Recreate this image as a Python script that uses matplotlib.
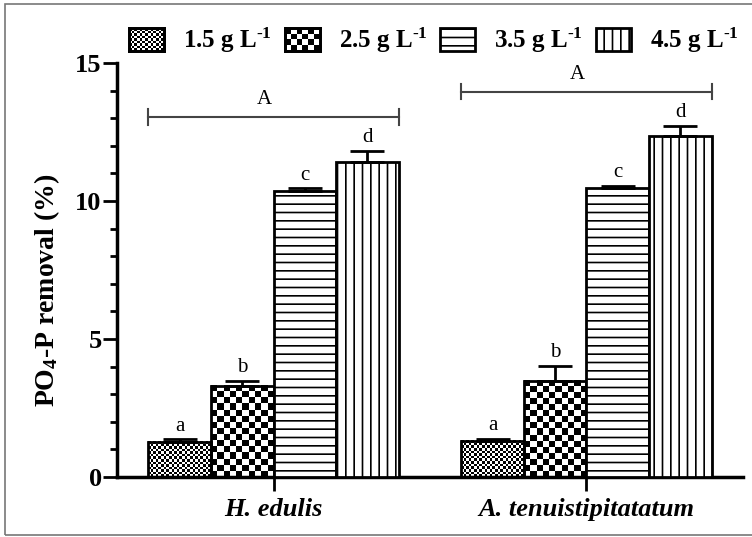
import numpy as np
import matplotlib
matplotlib.use('Agg')
import matplotlib.pyplot as plt
from matplotlib.patches import Rectangle
from matplotlib.ticker import MultipleLocator

plt.rcParams['font.family'] = 'Liberation Serif'
plt.rcParams['font.weight'] = 'bold'
plt.rcParams['mathtext.fontset'] = 'custom'
plt.rcParams['mathtext.rm'] = 'Liberation Serif:bold'
plt.rcParams['mathtext.it'] = 'Liberation Serif:italic:bold'
plt.rcParams['mathtext.bf'] = 'Liberation Serif:bold'
plt.rcParams['hatch.linewidth'] = 1.2

# data
species = ['H. edulis', 'A. tenuistipitatatum']
doses = ['1.5', '2.5', '3.5', '4.5']
removal_he = [1.28, 3.31, 10.38, 11.42]
err_he = [0.08, 0.18, 0.08, 0.39]
removal_at = [1.31, 3.49, 10.48, 12.34]
err_at = [0.06, 0.53, 0.07, 0.39]
sig_letters = ['a', 'b', 'c', 'd']
group_letters = ['A', 'A']
group_bracket_y = [13.05, 13.96]

# fill style per dose: checkerboards are drawn as clipped images
patterns = ['fine', 'coarse', '--', '||']
cell_px = {'fine': 2.6, 'coarse': 6.2}


def checker(nx, ny):
    return (np.add.outer(np.arange(ny), np.arange(nx)) % 2).astype(float)


fig = plt.figure(figsize=(7.52, 5.37), dpi=100)
ax = fig.add_axes([0.1556, 0.1117, 0.8324, 0.7709])
ax.set_xlim(-0.5, 1.5)
ax.set_ylim(0, 15)

x = np.arange(len(species))
width = 0.2
values = np.array([removal_he, removal_at])
errors = np.array([err_he, err_at])

for i, dose in enumerate(doses):
    pos = x + (i - 1.5) * width
    pat = patterns[i]
    textured = pat in cell_px
    bars = ax.bar(pos, values[:, i], width,
                  facecolor='none' if textured else 'white',
                  edgecolor='black', linewidth=2,
                  hatch=None if textured else pat,
                  label=dose + r' g L$^{\text{-1}}$', zorder=3)
    ax.errorbar(pos, values[:, i], yerr=[np.zeros(len(species)), errors[:, i]],
                fmt='none', ecolor='black', elinewidth=2, capsize=12,
                capthick=2, zorder=4)
    for b, v, e in zip(bars, values[:, i], errors[:, i]):
        ax.text(b.get_x() + b.get_width() / 2, v + e + 0.32, sig_letters[i],
                ha='center', va='baseline', fontsize=15, fontweight='normal')
        if textured:
            x0, y0 = b.get_x(), b.get_y()
            x1, y1 = x0 + b.get_width(), y0 + b.get_height()
            (px0, py0), (px1, py1) = ax.transData.transform([(x0, y0), (x1, y1)])
            nx = max(1, round((px1 - px0) / cell_px[pat]))
            ny = max(1, round((py1 - py0) / cell_px[pat]))
            ax.imshow(checker(nx, ny), cmap='gray', extent=(x0, x1, y0, y1),
                      aspect='auto', interpolation='nearest', zorder=2)

# group brackets
for g, (lab, yb) in enumerate(zip(group_letters, group_bracket_y)):
    x0, x1 = x[g] - 2 * width, x[g] + 2 * width
    ax.plot([x0, x1], [yb, yb], color='#444444', lw=1.5)
    ax.plot([x0, x0], [yb - 0.28, yb + 0.28], color='#444444', lw=1.5)
    ax.plot([x1, x1], [yb - 0.28, yb + 0.28], color='#444444', lw=1.5)
    ax.text(x[g] - 0.03, yb + 0.45, lab, ha='center', va='baseline',
            fontsize=15, fontweight='normal')

ax.set_xlim(-0.5, 1.5)
ax.set_ylim(0, 15)
ax.set_xticks(x)
ax.set_xticklabels(species, fontstyle='italic', fontweight='bold', fontsize=19)
ax.set_yticks([0, 5, 10, 15])
ax.yaxis.set_minor_locator(MultipleLocator(1))
ax.tick_params(axis='both', which='major', length=10, width=2, labelsize=19)
ax.tick_params(axis='y', which='minor', length=5, width=2)
ax.tick_params(axis='y', which='major', pad=1)
ax.tick_params(axis='x', pad=5)
for s in ['top', 'right']:
    ax.spines[s].set_visible(False)
for s in ['left', 'bottom']:
    ax.spines[s].set_linewidth(2.5)
ax.set_ylabel('PO$_4$-P removal (%)', fontsize=20, fontweight='bold')
ax.yaxis.set_label_coords(-0.088, 0.45)

leg = fig.legend(loc='center', bbox_to_anchor=(0.577, 0.925), ncol=4,
                 frameon=False, fontsize=18, handlelength=1.4, handleheight=1.0,
                 handletextpad=0.76, columnspacing=0.52)

# checker fill for the legend keys
fig.canvas.draw()
for patch, pat in zip(leg.get_patches(), patterns):
    if pat not in cell_px:
        continue
    bb = patch.get_window_extent()
    nx = max(1, round(bb.width / cell_px[pat]))
    ny = max(1, round(bb.height / cell_px[pat]))
    hax = fig.add_axes(bb.transformed(fig.transFigure.inverted()).bounds)
    hax.imshow(checker(nx, ny), cmap='gray', aspect='auto', interpolation='nearest')
    hax.set_xticks([])
    hax.set_yticks([])
    for sp in hax.spines.values():
        sp.set_linewidth(2)

fig.patches.append(Rectangle((5 / 752, 2 / 537), 1, 531 / 537,
                             transform=fig.transFigure, fill=False,
                             edgecolor='#777777', lw=1.2))

fig.savefig('out.png', dpi=100)
